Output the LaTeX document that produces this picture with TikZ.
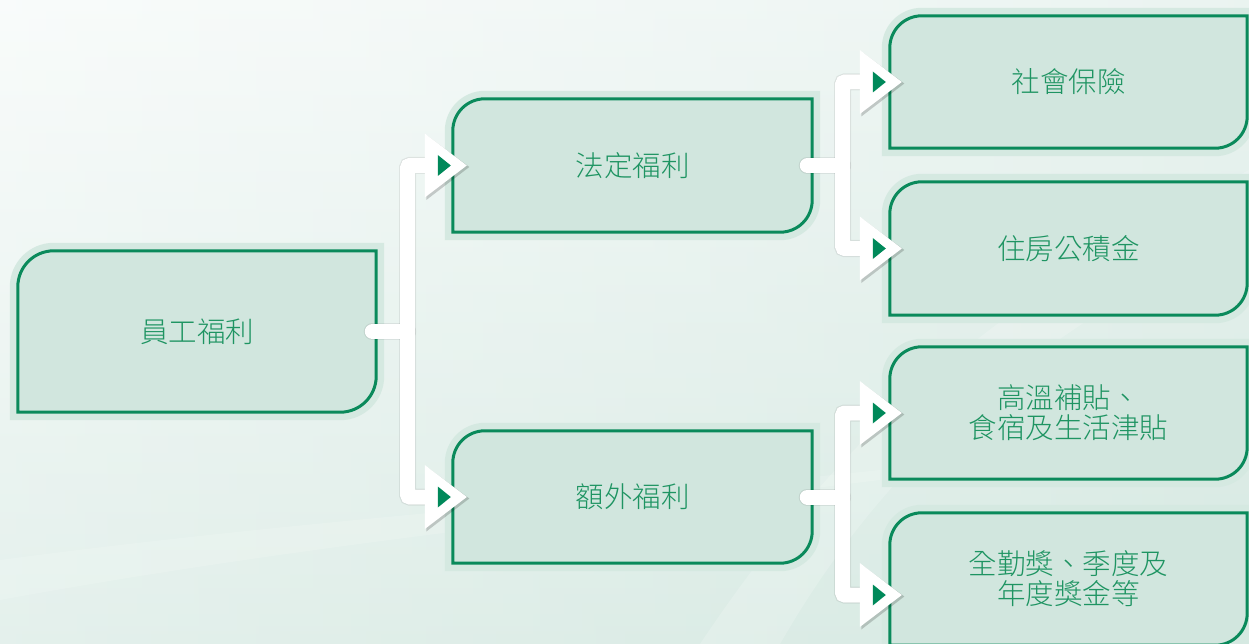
\documentclass[tikz,border=0pt]{standalone}
\usepackage{fontspec}
\newfontfamily\cjk{Noto Sans CJK TC}[UprightFont=* Light]
\usetikzlibrary{calc}
\pgfdeclarelayer{bgzero}
\pgfdeclarelayer{background}
\pgfsetlayers{bgzero,background,main}
\definecolor{bordergreen}{HTML}{0A8A5B}
\definecolor{textgreen}{HTML}{1E9462}
\definecolor{boxfill}{HTML}{D1E6DE}
\definecolor{halofill}{HTML}{D5E9E1}
\definecolor{bgtop}{HTML}{F6FAF9}
\definecolor{bgmid}{HTML}{E6F1ED}
\definecolor{bgbot}{HTML}{D6E9E2}
\definecolor{arrowgreen}{HTML}{00895A}
\tikzset{
  benefit/.style={inner sep=0pt, align=center, text=textgreen,
    font=\cjk\fontsize{28.5}{30}\selectfont},
  connshadowA/.style={line width=17pt, draw=black, draw opacity=0.07},
  connshadowB/.style={line width=15pt, draw=black, draw opacity=0.16},
  connwhite/.style={line width=15pt, draw=white},
}
% box shape drawn from the anchors of a named node; #2 = corner radius
\newcommand\benefitshape[2]{%
  \fill[halofill] let \p1=(#1.north west), \p2=(#1.south east) in
    (\x1-8pt,\y2-8pt) -- (\x1-8pt,\y1-#2pt)
    arc[start angle=180,end angle=90,radius={#2pt+8pt}]
    -- (\x2+8pt,\y1+8pt) -- (\x2+8pt,\y2+#2pt)
    arc[start angle=0,end angle=-90,radius={#2pt+8pt}] -- cycle;
  \filldraw[fill=boxfill, draw=bordergreen, line width=3pt]
    let \p1=(#1.north west), \p2=(#1.south east) in
    (\x1,\y2) -- (\x1,\y1-#2pt)
    arc[start angle=180,end angle=90,radius=#2pt]
    -- (\x2,\y1) -- (\x2,\y2+#2pt)
    arc[start angle=0,end angle=-90,radius=#2pt] -- cycle;
}
% arrow head whose tip is the named coordinate #1
\newcommand\arrowhead[1]{%
  \fill[black, opacity=0.18] ($(#1)+(-40.5,-30.5)$) -- ($(#1)+(2.5,1.5)$) -- ($(#1)+(-40.5,34.5)$) -- cycle;
  \fill[white] ($(#1)+(-42,-32)$) -- (#1) -- ($(#1)+(-42,32)$) -- cycle;
  \fill[arrowgreen] ($(#1)+(-29,-10.5)$) -- ($(#1)+(-16,0)$) -- ($(#1)+(-29,10.5)$) -- cycle;
}
\begin{document}
\begin{tikzpicture}[x=1pt,y=-1pt]
\useasboundingbox (0,0) rectangle (1249,644);
\clip (0,0) rectangle (1249,644);

% nodes (text)
\node[benefit, minimum width=358pt, minimum height=161pt] (A) at (197,331.5) {員工福利};
\node[benefit, minimum width=359pt, minimum height=133pt] (B) at (632.5,165.5) {法定福利};
\node[benefit, minimum width=359pt, minimum height=132pt] (C) at (632.5,497) {額外福利};
\node[benefit, minimum width=357pt, minimum height=132pt] (D) at (1068.5,82) {社會保險};
\node[benefit, minimum width=357pt, minimum height=133pt] (E) at (1068.5,248.5) {住房公積金};
\node[benefit, minimum width=357pt, minimum height=132pt] (F) at (1068.5,413) {高溫補貼、\\食宿及生活津貼};
\node[benefit, minimum width=357pt, minimum height=132pt] (G) at (1068.5,579) {全勤獎、季度及\\年度獎金等};

\begin{pgfonlayer}{bgzero}
  \shade[top color=bgtop, middle color=bgmid, bottom color=bgbot] (0,0) rectangle (1249,644);
  \shade[left color=white, right color=bgbot, opacity=0.35] (0,0) rectangle (1249,644);
  \fill[white, opacity=0.18] (700,644) .. controls (850,420) and (1000,300) .. (1249,170)
      -- (1249,230) .. controls (1020,340) and (880,470) .. (780,644) -- cycle;
  \fill[white, opacity=0.15] (0,560) .. controls (300,520) and (600,500) .. (880,470)
      -- (880,480) .. controls (600,515) and (300,545) .. (0,600) -- cycle;
\end{pgfonlayer}

\begin{pgfonlayer}{background}
  \benefitshape{A}{36}
  \benefitshape{B}{32}
  \benefitshape{C}{32}
  \benefitshape{D}{32}
  \benefitshape{E}{32}
  \benefitshape{F}{32}
  \benefitshape{G}{32}
\end{pgfonlayer}

% junction and arrow-tip coordinates
\coordinate (J1) at ($(A.east)+(31.5,0)$);
\coordinate (J2) at ($(B.east)+(30.5,0)$);
\coordinate (J3) at ($(C.east)+(30.5,0)$);
\coordinate (sA) at ($(A.east)+(-4,0)$);
\coordinate (sB) at ($(B.east)+(-5,0)$);
\coordinate (sC) at ($(C.east)+(-5,0)$);
\coordinate (tB) at ($(B.west)+(14,0)$);
\coordinate (tC) at ($(C.west)+(14,0)$);
\coordinate (tD) at ($(D.west)+(12,0)$);
\coordinate (tE) at ($(E.west)+(12,0)$);
\coordinate (tF) at ($(F.west)+(12,0)$);
\coordinate (tG) at ($(G.west)+(12,16)$);

% connector shadows
\foreach \s in {connshadowA,connshadowB}{
  \begin{scope}[shift={(2.5,2.5)}]
    \draw[\s, line cap=round] (sA) -- (J1);
    \draw[\s, rounded corners=2pt] ($(tB)+(-40,0)$) -| (J1) |- ($(tC)+(-40,0)$);
    \draw[\s, line cap=round] (sB) -- (J2);
    \draw[\s, rounded corners=2pt] ($(tD)+(-40,0)$) -| (J2) |- ($(tE)+(-40,0)$);
    \draw[\s, line cap=round] (sC) -- (J3);
    \draw[\s, rounded corners=2pt] ($(tF)+(-40,0)$) -| (J3) |- ($(tG)+(-40,0)$);
  \end{scope}
}
% white connectors
\draw[connwhite, line cap=round] (sA) -- (J1);
\draw[connwhite, rounded corners=2pt] ($(tB)+(-40,0)$) -| (J1) |- ($(tC)+(-40,0)$);
\draw[connwhite, line cap=round] (sB) -- (J2);
\draw[connwhite, rounded corners=2pt] ($(tD)+(-40,0)$) -| (J2) |- ($(tE)+(-40,0)$);
\draw[connwhite, line cap=round] (sC) -- (J3);
\draw[connwhite, rounded corners=2pt] ($(tF)+(-40,0)$) -| (J3) |- ($(tG)+(-40,0)$);

% arrow heads
\arrowhead{tB}
\arrowhead{tC}
\arrowhead{tD}
\arrowhead{tE}
\arrowhead{tF}
\arrowhead{tG}
\end{tikzpicture}
\end{document}
